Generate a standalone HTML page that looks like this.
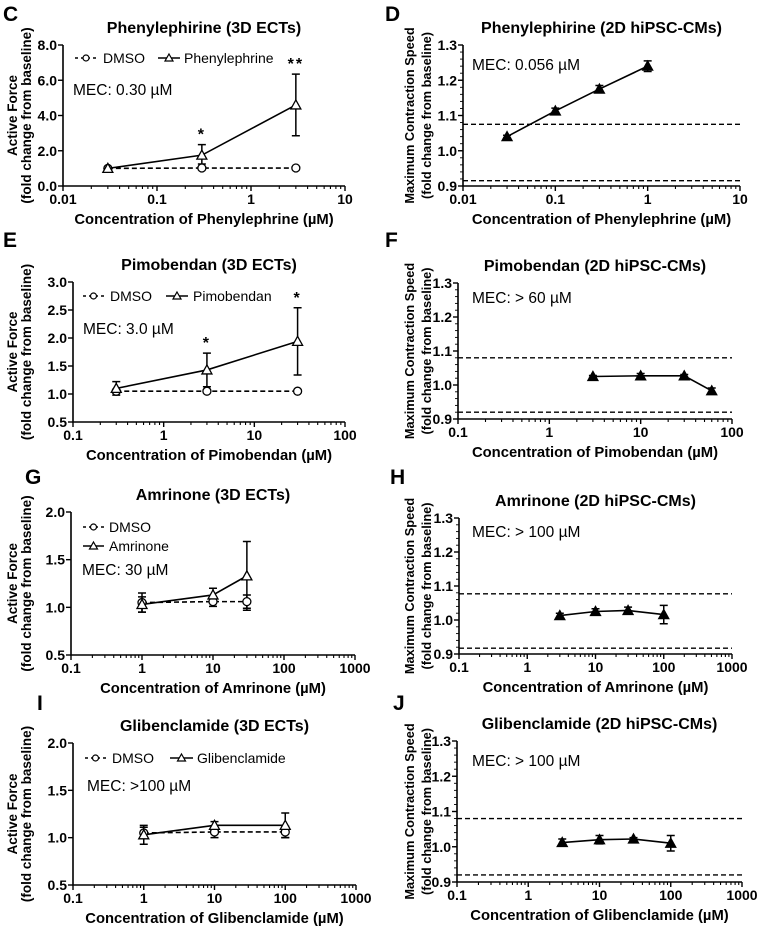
<!DOCTYPE html>
<html><head><meta charset="utf-8">
<style>
html,body{margin:0;padding:0;background:#fff;}
svg{display:block;font-family:"Liberation Sans",Arial,sans-serif;}
</style></head>
<body>
<svg id="fig" width="760" height="928" viewBox="0 0 760 928" xmlns="http://www.w3.org/2000/svg"></svg>
<script>
// ---- data ----
const cConc=[0.03,0.3,3];
const cDmso=[1.0,1.02,1.02];
const cDrug=[1.0,1.75,4.6];
const cDrugErrUp=[0.05,0.6,1.75];
const cDrugErrDn=[0.05,0.5,1.75];
const cStars=["","*","**"];

const dConc=[0.03,0.1,0.3,1];
const dVals=[1.04,1.113,1.175,1.24];
const dErr=[0.004,0.008,0.01,0.015];
const dThresh=[1.075,0.915];

const eConc=[0.3,3,30];
const eDmso=[1.05,1.05,1.05];
const eDmsoErr=[0.03,0.03,0.03];
const eDrug=[1.1,1.43,1.94];
const eDrugErr=[0.12,0.3,0.6];
const eStars=["","*","*"];

const fConc=[3,10,30,60];
const fVals=[1.025,1.027,1.027,0.983];
const fErr=[0.003,0.007,0.004,0.008];
const fThresh=[1.08,0.92];

const gConc=[1,10,30];
const gDmso=[1.05,1.06,1.06];
const gDmsoErr=[0.1,0.05,0.07];
const gDrug=[1.03,1.13,1.33];
const gDrugErr=[0.08,0.07,0.36];

const hConc=[3,10,30,100];
const hVals=[1.013,1.025,1.028,1.016];
const hErr=[0.007,0.008,0.01,0.027];
const hThresh=[1.077,0.917];

const iConc=[1,10,100];
const iDmso=[1.05,1.06,1.06];
const iDmsoErr=[0.06,0.06,0.06];
const iDrug=[1.03,1.13,1.13];
const iDrugErr=[0.1,0.04,0.13];

const jConc=[3,10,30,100];
const jVals=[1.012,1.02,1.022,1.01];
const jErr=[0.01,0.012,0.004,0.022];
const jThresh=[1.08,0.92];

const NS="http://www.w3.org/2000/svg";
const fig=document.getElementById('fig');
function mk(tag,attrs,parent){const e=document.createElementNS(NS,tag);for(const k in attrs)e.setAttribute(k,attrs[k]);(parent||fig).appendChild(e);return e;}
function txt(s,attrs,parent){const e=mk('text',attrs,parent);e.textContent=s;return e;}

function panel(cfg){
  const g=mk('g',{});
  
  
  const xs=v=>cfg.x0+(Math.log10(v)-cfg.e0)/(cfg.e1-cfg.e0)*(cfg.x1-cfg.x0);
  const ys=v=>cfg.yb+(v-cfg.ymin)/(cfg.ymax-cfg.ymin)*(cfg.yt-cfg.yb);
  const L=txt(cfg.letter,{x:cfg.lx,y:cfg.ly,'font-size':21,'font-weight':'bold'},g);
  
  
  const T=txt(cfg.title,{x:(cfg.x0+cfg.x1)/2,y:cfg.yt-12,'font-size':16,'font-weight':'bold','text-anchor':'middle'},g);
  
  
  const ax=mk('path',{d:`M${cfg.x0},${cfg.yt}V${cfg.yb}H${cfg.x1}`,stroke:'#000','stroke-width':1.6,fill:'none'},g);
  
  
  for(let e=cfg.e0;e<=cfg.e1;e++){
    const x=xs(Math.pow(10,e));
    mk('line',{x1:x,x2:x,y1:cfg.yb,y2:cfg.yb+5,stroke:'#000','stroke-width':1.4},g);
    const lab=Math.pow(10,e);
    const t=txt(e<0?lab.toFixed(-e):String(lab),{x:x,y:cfg.yb+18,'font-size':14,'font-weight':'bold','text-anchor':'middle'},g);
    
    
    if(e<cfg.e1)for(let m=2;m<=9;m++){const xm=xs(m*Math.pow(10,e));mk('line',{x1:xm,x2:xm,y1:cfg.yb,y2:cfg.yb+3,stroke:'#000','stroke-width':1.1},g);}
  }
  cfg.yticks.forEach(v=>{
    const y=ys(v);
    mk('line',{x1:cfg.x0-5,x2:cfg.x0,y1:y,y2:y,stroke:'#000','stroke-width':1.4},g);
    const t=txt(v.toFixed(1),{x:cfg.x0-6,y:y+5,'font-size':14,'font-weight':'bold','text-anchor':'end'},g);
    
    
  });
  if(cfg.yminor){for(let v=cfg.ymin;v<cfg.ymax;v+=cfg.yminor){const y=ys(v);mk('line',{x1:cfg.x0-3,x2:cfg.x0,y1:y,y2:y,stroke:'#000','stroke-width':0.9},g);}}
  const xl=txt(cfg.xlabel,{x:(cfg.x0+cfg.x1)/2,y:cfg.yb+38,'font-size':14.8,'font-weight':'bold','text-anchor':'middle'},g);
  
  
  const ym=(cfg.yt+cfg.yb)/2;
  const yl=txt('',{transform:`translate(${cfg.ylx},${ym}) rotate(-90)`,'font-size':cfg.ylfs,'font-weight':'bold','text-anchor':'middle'},g);
  
  
  const t1=mk('tspan',{x:0,y:0},yl);t1.textContent=cfg.ylabel[0];
  const t2=mk('tspan',{x:0,y:cfg.ylgap},yl);t2.textContent=cfg.ylabel[1];
  const mec=txt(cfg.mec,{x:cfg.mx,y:cfg.my,'font-size':15.5},g);
  
  
  (cfg.thresh||[]).forEach(v=>{
    const l=mk('line',{x1:cfg.x0,x2:cfg.x1,y1:ys(v),y2:ys(v),stroke:'#000','stroke-width':1.4,'stroke-dasharray':'5,3'},g);
    
    
  });
  function errs(conc,vals,up,dn,sname){
    conc.forEach((c,i)=>{
      const x=xs(c),yu=ys(vals[i]+up[i]),yd=ys(vals[i]-dn[i]);
      const p=mk('path',{d:`M${x},${yu}V${yd}M${x-4},${yu}h8M${x-4},${yd}h8`,stroke:'#000','stroke-width':1.5,fill:'none'},g);
      
      
    });
  }
  function line(conc,vals,dash,sname){
    const l=mk('polyline',{points:conc.map((c,i)=>xs(c)+','+ys(vals[i])).join(' '),stroke:'#000','stroke-width':1.6,fill:'none','stroke-dasharray':dash||'none'},g);
    
    
  }
  function tri(x,y,filled,sname){
    const p=mk('path',{d:`M${x},${y-5}L${x+5},${y+4}L${x-5},${y+4}Z`,stroke:'#000','stroke-width':1.3,fill:filled?'#000':'#fff'},g);
    
    
  }
  function circ(x,y,sname){
    const p=mk('circle',{cx:x,cy:y,r:4,stroke:'#000','stroke-width':1.3,fill:'#fff'},g);
    
    
  }
  if(cfg.dmso){
    errs(cfg.conc,cfg.dmso,cfg.dmsoErr,cfg.dmsoErr,'dmso');
    errs(cfg.conc,cfg.drug,cfg.drugUp,cfg.drugDn,'drug');
    line(cfg.conc,cfg.drug,null,'drug');
    line(cfg.conc,cfg.dmso,'5,3','dmso');
    cfg.conc.forEach((c,i)=>circ(xs(c),ys(cfg.dmso[i]),'dmso'));
    cfg.conc.forEach((c,i)=>tri(xs(c),ys(cfg.drug[i]),false,'drug'));
    (cfg.stars||[]).forEach((s,i)=>{if(!s)return;
      const st=txt(s,{x:xs(cfg.conc[i]),y:ys(cfg.drug[i]+cfg.drugUp[i])-5,'font-size':16,'font-weight':'bold','text-anchor':'middle','letter-spacing':'2'},g);
      
      
    });
    cfg.legend.forEach(le=>{
      const lg=mk('g',{},g);
      
      
      const cx=(le.s0+le.s1)/2;
      mk('line',{x1:le.s0,x2:le.s1,y1:le.y,y2:le.y,stroke:'#000','stroke-width':1.4,'stroke-dasharray':le.dmso?'3,3':'none'},lg);
      if(le.dmso)mk('circle',{cx:cx,cy:le.y,r:3,stroke:'#000','stroke-width':1.2,fill:'#fff'},lg);
      else mk('path',{d:`M${cx},${le.y-4}L${cx+4},${le.y+3}L${cx-4},${le.y+3}Z`,stroke:'#000','stroke-width':1.2,fill:'#fff'},lg);
      txt(le.label,{x:le.tx,y:le.y+5,'font-size':14},lg);
    });
  } else {
    errs(cfg.conc,cfg.vals,cfg.err,cfg.err,'speed');
    line(cfg.conc,cfg.vals,null,'speed');
    cfg.conc.forEach((c,i)=>tri(xs(c),ys(cfg.vals[i]),true,'speed'));
  }
}
const AF=["Active Force","(fold change from baseline)"];
const MC=["Maximum Contraction Speed","(fold change from baseline)"];
const leftBase={ylabel:AF,ylx:17,ylgap:14,ylfs:13.5};
const rightBase={ylabel:MC,ylx:414,ylgap:17,ylfs:12.8,yticks:[0.9,1.0,1.1,1.2,1.3],ymin:0.9,ymax:1.3,yminor:0.02};

panel(Object.assign({},leftBase,{name:'panel-c',letter:'C',lx:3,ly:21,title:'Phenylephirine (3D ECTs)',x0:63,x1:345,e0:-2,e1:1,yt:45,yb:186,ymin:0,ymax:8,yticks:[0,2,4,6,8],
 xlabel:'Concentration of Phenylephrine (µM)',mec:'MEC: 0.30 µM',mx:73,my:95,conc:cConc,dmso:cDmso,dmsoErr:[0.03,0.03,0.03],drug:cDrug,drugUp:cDrugErrUp,drugDn:cDrugErrDn,stars:cStars,
 legend:[{s0:75,s1:97,y:58,dmso:true,label:'DMSO',tx:103},{s0:158,s1:180,y:58,label:'Phenylephrine',tx:184}]}));
panel(Object.assign({},rightBase,{name:'panel-d',letter:'D',lx:385,ly:21,title:'Phenylephirine (2D hiPSC-CMs)',x0:463,x1:740,e0:-2,e1:1,yt:45,yb:186,
 xlabel:'Concentration of Phenylephrine (µM)',mec:'MEC: 0.056 µM',mx:472,my:70,conc:dConc,vals:dVals,err:dErr,thresh:dThresh}));
panel(Object.assign({},leftBase,{name:'panel-e',letter:'E',lx:3,ly:247,title:'Pimobendan (3D ECTs)',x0:73,x1:345,e0:-1,e1:2,yt:282,yb:422,ymin:0.5,ymax:3,yticks:[0.5,1,1.5,2,2.5,3],
 xlabel:'Concentration of Pimobendan (µM)',mec:'MEC: 3.0 µM',mx:83,my:334,conc:eConc,dmso:eDmso,dmsoErr:eDmsoErr,drug:eDrug,drugUp:eDrugErr,drugDn:eDrugErr,stars:eStars,
 legend:[{s0:83,s1:104,y:296,dmso:true,label:'DMSO',tx:110},{s0:166,s1:188,y:296,label:'Pimobendan',tx:193}]}));
panel(Object.assign({},rightBase,{name:'panel-f',letter:'F',lx:385,ly:247,title:'Pimobendan (2D hiPSC-CMs)',x0:458,x1:732,e0:-1,e1:2,yt:283,yb:419,
 xlabel:'Concentration of Pimobendan (µM)',mec:'MEC: > 60 µM',mx:472,my:303,conc:fConc,vals:fVals,err:fErr,thresh:fThresh}));
panel(Object.assign({},leftBase,{name:'panel-g',letter:'G',lx:25,ly:484,title:'Amrinone (3D ECTs)',x0:71,x1:355,e0:-1,e1:3,yt:512,yb:655,ymin:0.5,ymax:2,yticks:[0.5,1,1.5,2],
 xlabel:'Concentration of Amrinone (µM)',mec:'MEC: 30 µM',mx:82,my:575,conc:gConc,dmso:gDmso,dmsoErr:gDmsoErr,drug:gDrug,drugUp:gDrugErr,drugDn:gDrugErr,
 legend:[{s0:83,s1:104,y:527,dmso:true,label:'DMSO',tx:109},{s0:83,s1:104,y:546,label:'Amrinone',tx:109}]}));
panel(Object.assign({},rightBase,{name:'panel-h',letter:'H',lx:390,ly:484,title:'Amrinone (2D hiPSC-CMs)',x0:459,x1:732,e0:-1,e1:3,yt:518,yb:654,
 xlabel:'Concentration of Amrinone (µM)',mec:'MEC: > 100 µM',mx:472,my:537,conc:hConc,vals:hVals,err:hErr,thresh:hThresh}));
panel(Object.assign({},leftBase,{name:'panel-i',letter:'I',lx:37,ly:710,title:'Glibenclamide (3D ECTs)',x0:73,x1:356,e0:-1,e1:3,yt:743,yb:885,ymin:0.5,ymax:2,yticks:[0.5,1,1.5,2],
 xlabel:'Concentration of Glibenclamide (µM)',mec:'MEC: >100 µM',mx:87,my:791,conc:iConc,dmso:iDmso,dmsoErr:iDmsoErr,drug:iDrug,drugUp:iDrugErr,drugDn:iDrugErr,
 legend:[{s0:85,s1:106,y:758,dmso:true,label:'DMSO',tx:112},{s0:170,s1:193,y:758,label:'Glibenclamide',tx:197}]}));
panel(Object.assign({},rightBase,{name:'panel-j',letter:'J',lx:393,ly:710,title:'Glibenclamide (2D hiPSC-CMs)',x0:457,x1:742,e0:-1,e1:3,yt:741,yb:882,
 xlabel:'Concentration of Glibenclamide (µM)',mec:'MEC: > 100 µM',mx:472,my:766,conc:jConc,vals:jVals,err:jErr,thresh:jThresh}));
</script>
</body></html>
